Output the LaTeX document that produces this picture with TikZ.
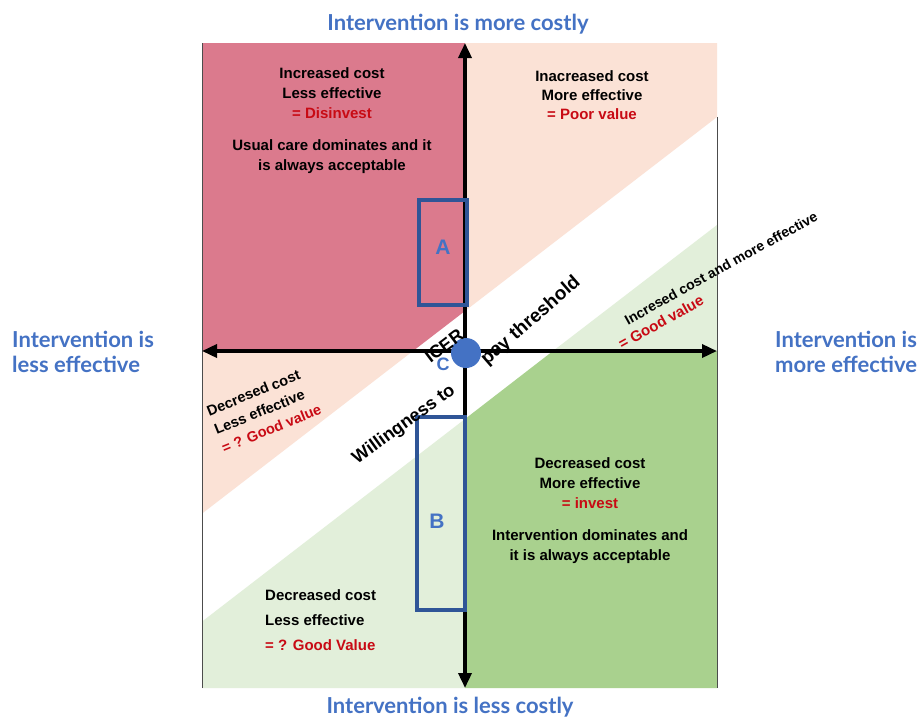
\documentclass[tikz,border=0pt]{standalone}
\usepackage{fontspec}
\setmainfont{Liberation Sans}
\newfontfamily\titlefont{Lato}
\usetikzlibrary{arrows.meta}
\definecolor{cpink}{RGB}{219,122,141}
\definecolor{cpeach}{RGB}{251,226,214}
\definecolor{clgreen}{RGB}{226,239,218}
\definecolor{cdgreen}{RGB}{169,209,142}
\definecolor{cred}{RGB}{200,10,20}
\definecolor{cblue}{RGB}{68,114,196}
\definecolor{cbox}{RGB}{47,85,151}
\begin{document}
\begin{tikzpicture}[x=1pt,y=-1pt,
  qtext/.style={font=\bfseries\fontsize{15}{20}\selectfont, align=center, inner sep=0pt},
  band/.style={font=\bfseries\fontsize{18}{18}\selectfont, inner sep=0pt},
  title/.style={font=\titlefont\bfseries\fontsize{22}{25}\selectfont, text=cblue, inner sep=0pt},
  axis/.style={line width=3.5pt, {Triangle[length=15pt,width=13pt]}-{Triangle[length=15pt,width=13pt]}},
  abox/.style={draw=cbox, line width=3.5pt, inner sep=0pt},
  boxlabel/.style={text=cblue, font=\bfseries\fontsize{21}{21}\selectfont, inner sep=0pt},
  border/.style={line width=0.8pt, draw=black!70}]
\useasboundingbox (0,0) rectangle (919,718);
\fill[white] (0,0) rectangle (919,718);
% quadrant fills
\fill[cpink] (202,43) -- (465,43) -- (465,311) -- (413,351) -- (202,351) -- cycle;
\fill[cpeach] (465,43) -- (717,43) -- (717,117) -- (465,311) -- cycle;
\fill[cpeach] (202,351) -- (413,351) -- (202,513.6) -- cycle;
\fill[clgreen] (553,351) -- (717,225) -- (717,351) -- cycle;
\fill[cdgreen] (465,419) -- (553,351) -- (717,351) -- (717,688) -- (465,688) -- cycle;
\fill[clgreen] (202,621.6) -- (465,419) -- (465,688) -- (202,688) -- cycle;
% borders
\coordinate (lt) at (202,43);
\coordinate (lb) at (202,688);
\coordinate (rt) at (717,117);
\coordinate (rb) at (717,688);
\draw[border] (lt) -- (lb);
\draw[border] (rt) -- (rb);
% axes
\coordinate (top) at (465,43);
\coordinate (bot) at (465,688);
\coordinate (lft) at (202,351);
\coordinate (rgt) at (717,351);
\draw[axis] (bot) -- (top);
\draw[axis] (lft) -- (rgt);
% boxes
\node[abox, minimum width=48pt, minimum height=105pt] (A) at (443,252.5) {};
\node[boxlabel] (Alab) at (443,247) {A};
\node[abox, minimum width=48pt, minimum height=193pt] (B) at (441,513.5) {};
\node[boxlabel] (Blab) at (437,521) {B};
% center
\node[circle, fill=cblue, minimum size=30pt, inner sep=0pt] (ctr) at (466,353) {};
% quadrant texts
\node[qtext] (tl1) at (332,93) {Increased cost\\Less effective\\\textcolor{cred}{= Disinvest}};
\node[qtext] (tl2) at (332,157) {Usual care dominates and it\\is always acceptable};
\node[qtext, font=\bfseries\fontsize{15}{19}\selectfont] (tr1) at (592,95) {Inacreased cost\\More effective\\\textcolor{cred}{= Poor value}};
\node[qtext] (br1) at (590,483) {Decreased cost\\More effective\\\textcolor{cred}{= invest}};
\node[qtext] (br2) at (590,547) {Intervention dominates and\\it is always acceptable};
\node[qtext, align=left, font=\bfseries\fontsize{15}{25}\selectfont, anchor=west] (bl1) at (265,620) {Decreased cost\\Less effective\\\textcolor{cred}{= ? Good Value}};
\node[qtext, align=left, rotate=22, font=\bfseries\fontsize{14.5}{20}\selectfont] (bl2) at (264,410) {Decresed cost\\Less effective\\\textcolor{cred}{= ? Good value}};
\node[qtext, rotate=29, font=\bfseries\fontsize{14}{20}\selectfont] (tr2) at (721,268) {Incresed cost and more effective};
\node[qtext, rotate=29, text=cred, font=\bfseries\fontsize{15}{20}\selectfont] (tr3) at (661,322) {= Good value};
% band texts
\node[band, rotate=37] (icer) at (444,346) {ICER};
\node[band, rotate=36] (wil) at (404,425) {Willingness to};
\node[band, rotate=41, font=\bfseries\fontsize{19}{19}\selectfont] (pay) at (531,321) {pay threshold};
\node[text=cblue, font=\bfseries\fontsize{18}{18}\selectfont, inner sep=0pt] (C) at (443,364) {C};
% titles
\node[title] (ttop) at (458,24) {Intervention is more costly};
\node[title] (tbot) at (450,707) {Intervention is less costly};
\node[title, align=left, anchor=west] (tleft) at (12,352) {Intervention is\\less effective};
\node[title, align=left, anchor=west] (tright) at (775,352) {Intervention is\\more effective};
\end{tikzpicture}
\end{document}
